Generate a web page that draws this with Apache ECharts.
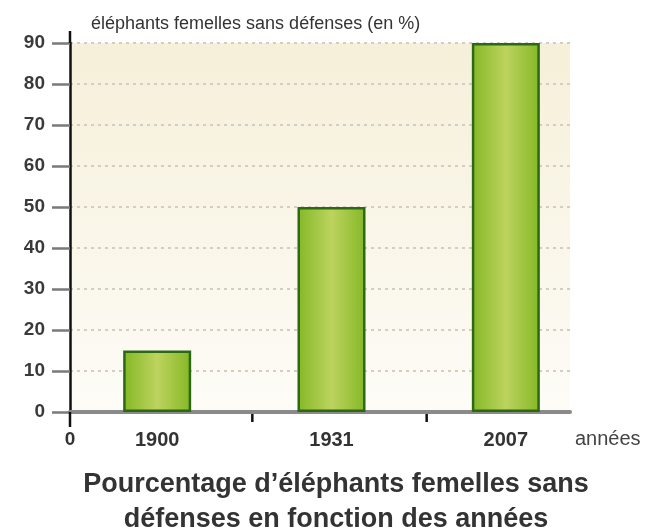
<!DOCTYPE html>
<html>
<head>
<meta charset="utf-8">
<script src="https://cdn.jsdelivr.net/npm/echarts@6/dist/echarts.min.js"></script>
<style>
  html, body { margin: 0; padding: 0; background: #fff; }
  #chart { width: 650px; height: 530px; }
</style>
</head>
<body>
<div id="chart"></div>
<script>
// années (axe des x)
const years = ['1900', '1931', '2007'];
// % de femelles sans défenses
const tusklessPct = [15, 50, 90];
const yTicks = [0, 10, 20, 30, 40, 50, 60, 70, 80, 90];

const FONT = '"Liberation Sans", Arial, sans-serif';

let myChart = echarts.init(document.getElementById('chart'));

myChart.setOption({
    animation: false,
    title: [
        {
            text: 'éléphants femelles sans défenses (en %)',
            left: 86,
            top: 10,
            textStyle: { fontFamily: FONT, fontSize: 18, fontWeight: 'normal', color: '#333' }
        },
        {
            text: 'Pourcentage d\u2019éléphants femelles sans\ndéfenses en fonction des années',
            left: 331,
            top: 462,
            textAlign: 'center',
            textStyle: { fontFamily: FONT, fontSize: 27, fontWeight: 'bold', color: '#333', lineHeight: 35 }
        }
    ],
    grid: [
        {
            // fond + quadrillage
            left: 70, right: 80, top: 43, bottom: 118,
            show: true,
            borderWidth: 0,
            backgroundColor: new echarts.graphic.LinearGradient(0, 0, 0, 1, [
                { offset: 0, color: '#f6efd9' },
                { offset: 1, color: '#fdfcf7' }
            ])
        },
        {
            // barres
            left: 70, right: 57, top: 43, bottom: 118
        }
    ],
    xAxis: [
        {
            gridIndex: 0,
            type: 'value',
            min: 0,
            max: 1,
            interval: 1,
            axisLine: { show: true, lineStyle: { color: '#8a8a8a', width: 4 } },
            axisTick: { show: false },
            splitLine: { show: false },
            axisLabel: {
                formatter: v => (v === 0 ? '0' : ''),
                margin: 18,
                fontFamily: FONT, fontSize: 19, fontWeight: 'bold', color: '#333'
            },
            name: 'années',
            nameLocation: 'end',
            nameGap: 5,
            nameTextStyle: {
                fontFamily: FONT, fontSize: 20, color: '#444',
                verticalAlign: 'top', padding: [17, 0, 0, 0]
            }
        },
        {
            gridIndex: 1,
            type: 'category',
            data: years,
            axisLine: { show: false },
            axisTick: { show: false },
            axisLabel: {
                margin: 18,
                fontFamily: FONT, fontSize: 20, fontWeight: 'bold', color: '#333'
            }
        }
    ],
    yAxis: [
        {
            gridIndex: 0,
            type: 'value',
            min: 0,
            max: 90,
            interval: 10,
            axisLine: {
                show: true,
                lineStyle: { color: '#111', width: 2.5 },
                symbol: ['none', 'none']
            },
            axisTick: {
                show: true,
                length: 18,
                lineStyle: { color: '#7a7a7a', width: 2.5 }
            },
            axisLabel: {
                margin: 25,
                formatter: v => (yTicks.indexOf(v) >= 0 ? String(v) : ''),
                fontFamily: FONT, fontSize: 19, fontWeight: 'bold', color: '#3a3a3a'
            },
            splitLine: {
                show: true,
                lineStyle: { color: '#d2cec2', width: 2, type: [3, 4] }
            }
        },
        {
            gridIndex: 1,
            type: 'value',
            min: 0,
            max: 90,
            show: false
        }
    ],
    series: [
        {
            type: 'bar',
            xAxisIndex: 1,
            yAxisIndex: 1,
            data: tusklessPct,
            barWidth: 68,
            z: 3,
            itemStyle: {
                color: new echarts.graphic.LinearGradient(0, 0, 1, 0, [
                    { offset: 0, color: '#84b826' },
                    { offset: 0.5, color: '#bdd35e' },
                    { offset: 1, color: '#84b826' }
                ]),
                borderColor: '#2b6912',
                borderWidth: 2.5
            }
        }
    ]
});

// prolongements de l'axe y et petits repères noirs entre les années
const originPx = myChart.convertToPixel({ xAxisIndex: 0, yAxisIndex: 0 }, [0, 0]);
const topPx = myChart.convertToPixel({ xAxisIndex: 0, yAxisIndex: 0 }, [0, 90]);
const centers = years.map(y => myChart.convertToPixel({ xAxisIndex: 1 }, y));
const extras = [
    {
        type: 'line', z: 10,
        shape: { x1: originPx[0], y1: originPx[1], x2: originPx[0], y2: originPx[1] + 15 },
        style: { stroke: '#111', lineWidth: 2.5 }
    },
    {
        type: 'line', z: 10,
        shape: { x1: topPx[0], y1: topPx[1], x2: topPx[0], y2: topPx[1] - 12 },
        style: { stroke: '#111', lineWidth: 2.5 }
    }
];
for (let i = 0; i < centers.length - 1; i++) {
    const x = (centers[i] + centers[i + 1]) / 2 + 8;
    extras.push({
        type: 'line', z: 10,
        shape: { x1: x, y1: originPx[1] + 2, x2: x, y2: originPx[1] + 10 },
        style: { stroke: '#111', lineWidth: 2.5 }
    });
}
myChart.setOption({ graphic: extras });
</script>
</body>
</html>
